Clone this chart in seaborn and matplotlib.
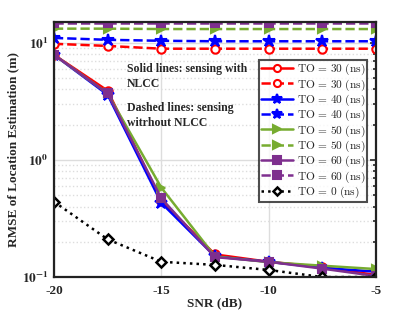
import math
import matplotlib
matplotlib.use('Agg')
import matplotlib.pyplot as plt
import matplotlib.ticker as mticker
import seaborn as sns

snr = [-20, -17.5, -15, -12.5, -10, -7.5, -5]

# solid lines: sensing with NLCC
to30_nlcc = [7.9, 3.9, 0.45, 0.156, 0.135, 0.122, 0.104]
to40_nlcc = [7.9, 3.6, 0.43, 0.150, 0.135, 0.120, 0.111]
to50_nlcc = [7.9, 3.7, 0.58, 0.150, 0.134, 0.125, 0.117]
to60_nlcc = [7.9, 3.7, 0.47, 0.148, 0.135, 0.118, 0.102]

# dashed lines: sensing without NLCC
to30_plain = [9.8, 9.4, 8.9, 8.9, 8.9, 8.9, 8.9]
to40_plain = [11.0, 10.6, 10.4, 10.3, 10.3, 10.3, 10.3]
to50_plain = [13.2, 13.2, 13.1, 13.1, 13.1, 13.1, 13.1]
to60_plain = [14.8, 14.8, 14.8, 14.8, 14.8, 14.8, 14.8]

to0 = [0.44, 0.21, 0.135, 0.127, 0.115, 0.100, 0.100]

sns.set_style('white')
plt.rcParams['font.family'] = ['Liberation Serif', 'DejaVu Serif']
plt.rcParams['mathtext.fontset'] = 'stix'

fig, ax = plt.subplots(figsize=(4.15, 3.12), dpi=100)
fig.subplots_adjust(left=0.13, right=0.906, top=0.929, bottom=0.112)

red, blue, green, purple = '#FF0000', '#0000FF', '#77AC30', '#7E2F8E'

series = [
    (to30_nlcc, red, 'o', '-', 'white'),
    (to30_plain, red, 'o', '--', 'white'),
    (to40_nlcc, blue, '*', '-', None),
    (to40_plain, blue, '*', '--', None),
    (to50_nlcc, green, '>', '-', None),
    (to50_plain, green, '>', '--', None),
    (to60_nlcc, purple, 's', '-', None),
    (to60_plain, purple, 's', '--', None),
]
labels = ['30', '30', '40', '40', '50', '50', '60', '60']

for (vals, col, mk, ls, fc), lab in zip(series, labels):
    ms = 9 if mk == '*' else 6
    sns.lineplot(x=snr, y=vals, color=col, marker=mk, linestyle=ls,
                 linewidth=1.8, markersize=ms, markeredgewidth=1.5,
                 markerfacecolor=fc if fc else col, markeredgecolor=col,
                 label=r'$\mathrm{TO}\,=\,%s\ (\mathrm{ns})$' % lab, ax=ax)

sns.lineplot(x=snr, y=to0, color='black', marker='D', linestyle=':',
             linewidth=1.8, markersize=5, markeredgewidth=1.8,
             markerfacecolor='white', markeredgecolor='black',
             label=r'$\mathrm{TO}\,=\,0\ (\mathrm{ns})$', ax=ax)

ax.set_yscale('log')
ax.set_xlim(-20, -5)
ax.set_ylim(0.1, 15)
ax.set_xticks([-20, -15, -10, -5])
ax.set_xticklabels(['-20', '-15', '-10', '-5'], fontweight='bold', fontsize=9.5)
ax.yaxis.set_major_locator(mticker.FixedLocator([0.1, 1, 10]))
ax.yaxis.set_major_formatter(mticker.FuncFormatter(
    lambda v, p: r'$\mathbf{10^{%d}}$' % round(math.log10(v))))
ax.yaxis.set_minor_locator(mticker.LogLocator(base=10, subs=range(2, 10)))
ax.yaxis.set_minor_formatter(mticker.NullFormatter())
for t in ax.get_yticklabels():
    t.set_fontsize(9.5)

ax.tick_params(which='both', direction='in', top=False, right=True, width=1.2)
ax.tick_params(which='major', length=4)
ax.tick_params(which='minor', length=2.5)
ax.tick_params(axis='x', pad=6)
ax.tick_params(axis='y', pad=4)
ax.grid(which='major', color='#dddddd', linewidth=1.0, linestyle='-')
ax.grid(which='minor', axis='y', color='#dddddd', linewidth=1.0, linestyle=':')
for s in ax.spines.values():
    s.set_linewidth(1.6)
    s.set_color('#222222')

ax.set_xlabel('SNR (dB)', fontweight='bold', fontsize=9.5, labelpad=0)
ax.set_ylabel('RMSE of Location Estimation (m)', fontweight='bold', fontsize=9.5, labelpad=2)

ax.text(0.226, 0.84, 'Solid lines: sensing with\nNLCC', transform=ax.transAxes,
        fontweight='bold', fontsize=8.5, va='top', linespacing=1.3)
ax.text(0.226, 0.685, 'Dashed lines: sensing\nwitrhout NLCC', transform=ax.transAxes,
        fontweight='bold', fontsize=8.5, va='top', linespacing=1.3)

leg = ax.legend(loc='upper left', bbox_to_anchor=(0.637, 0.853), fontsize=8.2,
                frameon=True, fancybox=False, edgecolor='#222222',
                borderpad=0.2, labelspacing=0.0, handlelength=2.8,
                handletextpad=0.3, borderaxespad=0, markerscale=0.85)
leg.get_frame().set_linewidth(1.5)
for t in leg.get_texts():
    t.set_math_fontfamily('cm')

fig.savefig('out.png', dpi=100)
